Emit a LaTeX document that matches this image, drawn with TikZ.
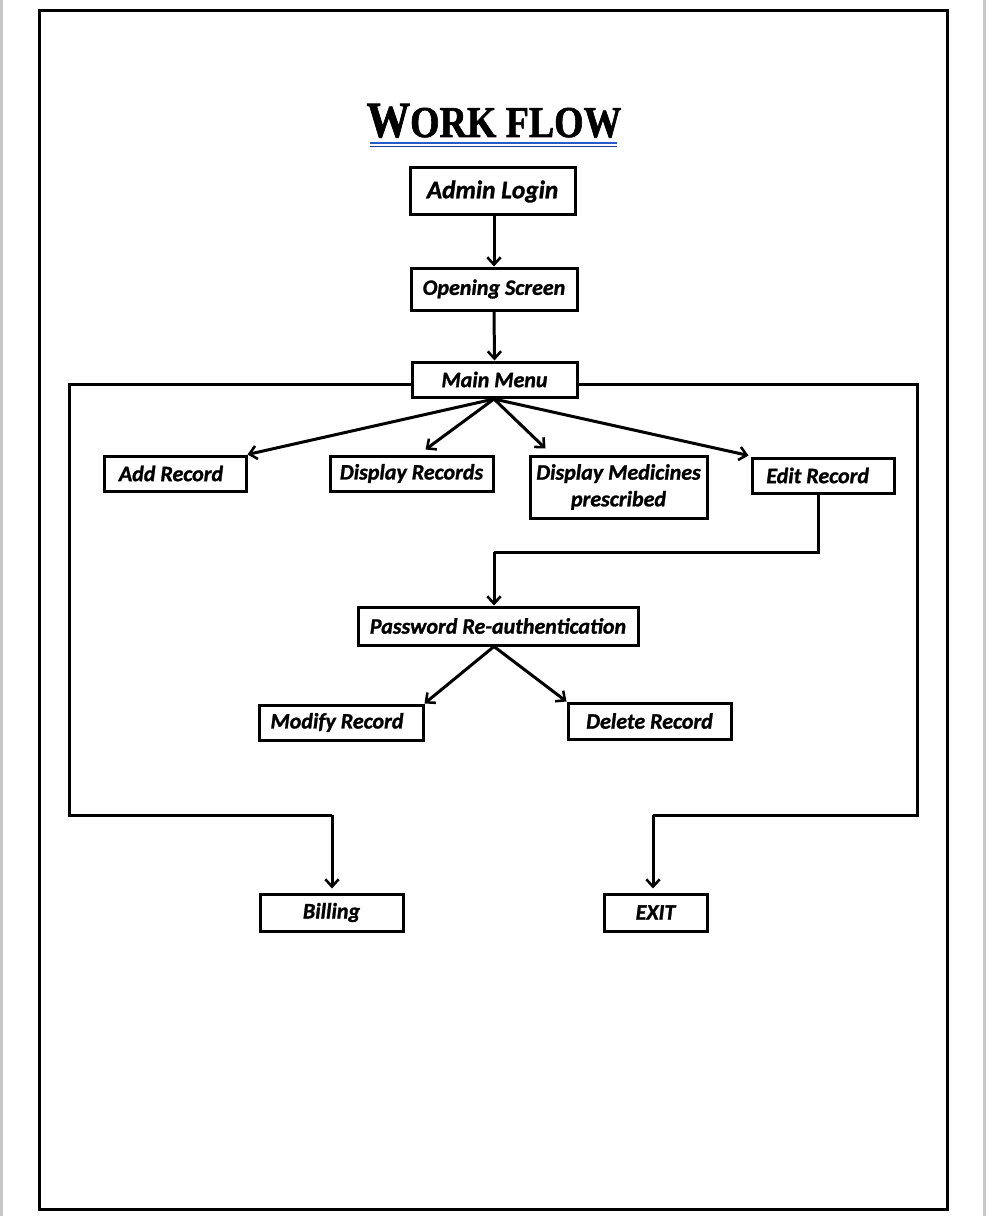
\documentclass[tikz,border=0pt]{standalone}
\usepackage{fontspec}
\setmainfont{Carlito}[BoldItalicFeatures={FakeBold=1.2}]
\newfontfamily\titlefont{Liberation Serif}[BoldFeatures={FakeBold=1.5}]
\usetikzlibrary{arrows.meta,calc}
\begin{document}
\begin{tikzpicture}[x=0.75pt,y=-0.75pt,
  box/.style={draw,line width=2.25pt,inner sep=0pt,align=center,font=\fontsize{16.5}{20}\selectfont\bfseries\itshape},
  conn/.style={line width=2.25pt,-{Straight Barb[length=5.5pt,width=10pt,line width=1.9pt]}},
  plain/.style={line width=2.25pt}]
\useasboundingbox (0,0) rectangle (986,1216);
\fill[white] (0,0) rectangle (986,1216);
\fill[black!22] (0,0) rectangle (2.5,1216);
\fill[black!22] (983,0) rectangle (985.5,1216);
\draw[line width=2.25pt] (39,11) rectangle (947,1209);
% title
\node[font=\titlefont\bfseries\fontsize{33}{40}\selectfont, inner sep=0pt, xscale=0.86, anchor=base] (title) at (494,137) {{\fontsize{38}{40}\selectfont W}ORK FLOW};
\draw[line width=2.2pt,color={rgb,255:red,40;green,90;blue,200}] (370,143) -- (617,143);
\draw[line width=1.3pt,color={rgb,255:red,30;green,60;blue,160}] (370,146.5) -- (617,146.5);
% nodes
\node[box,minimum width=165*0.75pt,minimum height=47*0.75pt,font=\fontsize{19}{22}\selectfont\bfseries\itshape] (admin) at (492.5,191.5) {Admin Login};
\node[box,minimum width=166*0.75pt,minimum height=42*0.75pt] (open) at (494,289) {\raisebox{-2pt}{Opening Screen}};
\node[box,minimum width=165*0.75pt,minimum height=35*0.75pt] (main) at (494.5,379.5) {Main Menu};
\node[box,minimum width=142*0.75pt,minimum height=35*0.75pt] (add) at (175,473.5) {Add Record\hspace{6pt}};
\node[box,minimum width=163*0.75pt,minimum height=35*0.75pt] (disp) at (411.5,473.5) {Display Records};
\node[box,minimum width=177*0.75pt,minimum height=62*0.75pt] (med) at (618.5,487) {Display Medicines\\prescribed};
\node[box,minimum width=142*0.75pt,minimum height=35*0.75pt] (edit) at (823,475.5) {Edit Record\hspace{8pt}};
\node[box,minimum width=280*0.75pt,minimum height=38*0.75pt] (pwd) at (498,626) {Password Re-authentication};
\node[box,minimum width=164*0.75pt,minimum height=35*0.75pt] (mod) at (341,722.5) {Modify Record\hspace{6pt}};
\node[box,minimum width=163*0.75pt,minimum height=36*0.75pt] (del) at (649.5,721) {Delete Record};
\node[box,minimum width=143*0.75pt,minimum height=37*0.75pt] (bill) at (331.5,912.5) {Billing};
\node[box,minimum width=103*0.75pt,minimum height=37*0.75pt] (exit) at (655.5,912.5) {EXIT};
% coordinates
\coordinate (mmS) at (494,399);
\coordinate (L1) at (69,384);
\coordinate (L2) at (69,815);
\coordinate (L3) at (332,815);
\coordinate (R1) at (917,384);
\coordinate (R2) at (917,815);
\coordinate (R3) at (653,815);
\coordinate (E1) at (818,552);
\coordinate (E2) at (494,552);
% connectors
\draw[conn] (open.north |- admin.south) -- (open.north);
\draw[conn] (open.south) -- (main.north);
\draw[conn] (mmS) -- (add.north east);
\draw[conn] (mmS) -- ($(disp.north)+(14,-5)$);
\draw[conn] (mmS) -- ($(med.north west)+(17,-6)$);
\draw[conn] (mmS) -- ($(edit.north west)+(-2,-1)$);
\draw[plain] ($(main.west)+(0,4.5)$) -- (L1) -- (L2) -- (L3);
\draw[conn,shorten >=4*0.75pt] (L3) -- (L3 |- bill.north);
\draw[plain] ($(main.east)+(0,4.5)$) -- (R1) -- (R2) -- (R3);
\draw[conn,shorten >=4*0.75pt] (R3) -- (R3 |- exit.north);
\draw[plain] (E1 |- edit.south) -- (E1) -- (E2);
\draw[conn] (E2) -- (E2 |- pwd.north);
\draw[conn] ($(pwd.south)+(-4,0)$) -- (mod.north east);
\draw[conn] ($(pwd.south)+(-4,0)$) -- (del.north west);
\end{tikzpicture}
\end{document}
